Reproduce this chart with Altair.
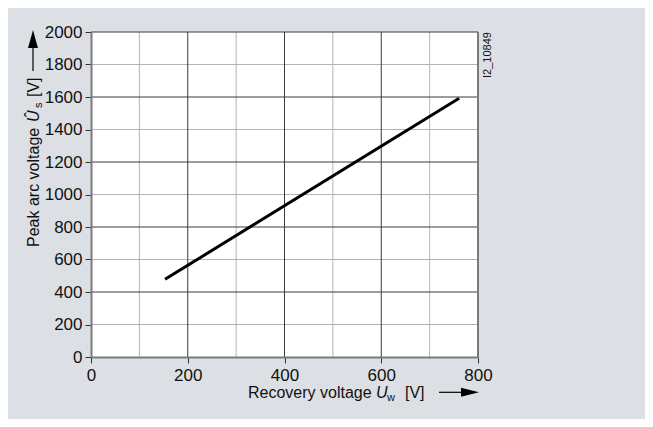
import altair as alt
import pandas as pd

# ---- data ----
line_x = [153, 761]          # Recovery voltage U_w [V]
line_y = [478, 1592]         # Peak arc voltage Û_s [V]

x_ticks = [0, 200, 400, 600, 800]
y_ticks = [0, 200, 400, 600, 800, 1000, 1200, 1400, 1600, 1800, 2000]
x_minor = [100, 300, 500, 700]
x_major = [200, 400, 600]
x_edge = [800]
y_minor = [200, 600, 1000, 1400, 1800]
y_major = [400, 800, 1200, 1600, 2000]

FONT = "Liberation Sans"
W, H = 387, 325

xs = alt.Scale(domain=[0, 800], nice=False, zero=False)
ys = alt.Scale(domain=[0, 2000], nice=False, zero=False)

x_axis = alt.Axis(values=x_ticks, grid=False, title=None, format="d",
                  domainColor="#7a7a7a", domainWidth=2, tickColor="#333333",
                  tickSize=6, tickWidth=1, labelPadding=4, labelFont=FONT,
                  labelFontSize=17, labelColor="#111111", zindex=1, labelFlush=False)
y_axis = alt.Axis(values=y_ticks, grid=False, title=None, format="d",
                  domainColor="#7a7a7a", domainWidth=2, tickColor="#333333",
                  tickSize=6, tickWidth=1, labelPadding=3, labelFont=FONT,
                  labelFontSize=17, labelColor="#111111", zindex=1, labelFlush=False)

def vrules(vals, color, width):
    return alt.Chart(pd.DataFrame({"x": vals})).mark_rule(
        color=color, strokeWidth=width).encode(x=alt.X("x:Q", scale=xs, axis=x_axis))

def hrules(vals, color, width):
    return alt.Chart(pd.DataFrame({"y": vals})).mark_rule(
        color=color, strokeWidth=width).encode(y=alt.Y("y:Q", scale=ys, axis=y_axis))

grid = [
    vrules(x_minor, "#b4b4b4", 1),
    hrules(y_minor, "#b4b4b4", 1),
    vrules(x_major, "#3a3a3a", 1),
    hrules(y_major, "#3a3a3a", 1),
    vrules(x_edge, "#7a7a7a", 2),
]

line = alt.Chart(pd.DataFrame({"x": line_x, "y": line_y})).mark_line(
    color="black", strokeWidth=3, strokeCap="butt").encode(
    x=alt.X("x:Q", scale=xs, axis=x_axis),
    y=alt.Y("y:Q", scale=ys, axis=y_axis),
)

one = alt.Data(values=[{"a": 1}])

def txt(s, x, y, size=16, angle=0, style="normal"):
    kw = dict(text=s, align="left", baseline="alphabetic", font=FONT,
              fontSize=size, color="#111111", fontStyle=style)
    if angle:
        kw["angle"] = angle
    return alt.Chart(one).mark_text(**kw).encode(x=alt.value(x), y=alt.value(y))

annot = [
    # x axis title
    txt("Recovery voltage", 157, 366),
    txt("U", 285, 366, style="italic"),
    txt("w", 296, 369, size=11),
    txt("[V]", 314, 366),
    alt.Chart(one).mark_rule(color="black", strokeWidth=1.2).encode(
        x=alt.value(348), x2=alt.value(374), y=alt.value(360.3)),
    alt.Chart(one).mark_point(shape="M1,0L-1,-0.5L-1,0.5Z", size=324, filled=True,
                              color="black", opacity=1, strokeWidth=0).encode(
        x=alt.value(379), y=alt.value(360.3)),
    # y axis title (rotated)
    txt("Peak arc voltage", -52, 215, angle=270),
    txt("\u00db", -52, 90, angle=270, style="italic"),
    txt("s", -49, 76, size=11, angle=270),
    txt("[V]", -52, 65, angle=270),
    alt.Chart(one).mark_rule(color="black", strokeWidth=1.2).encode(
        x=alt.value(-58), y=alt.value(8), y2=alt.value(39)),
    alt.Chart(one).mark_point(shape="M0,-1L0.55,1L-0.55,1Z", size=324, filled=True,
                              color="black", opacity=1, strokeWidth=0).encode(
        x=alt.value(-58), y=alt.value(7)),
    # figure id
    txt("I2_10849", 400, 46, size=11, angle=270),
]

chart = alt.layer(*grid, line, *annot).properties(
    width=W, height=H,
    background="#dce0e4",
    autosize=alt.AutoSizeParams(type="none"),
    padding={"left": 83, "top": 24, "right": 167, "bottom": 62},
).configure_view(fill="white", stroke=None)

chart.save("out.html", embed_options={"renderer": "svg", "actions": False})
